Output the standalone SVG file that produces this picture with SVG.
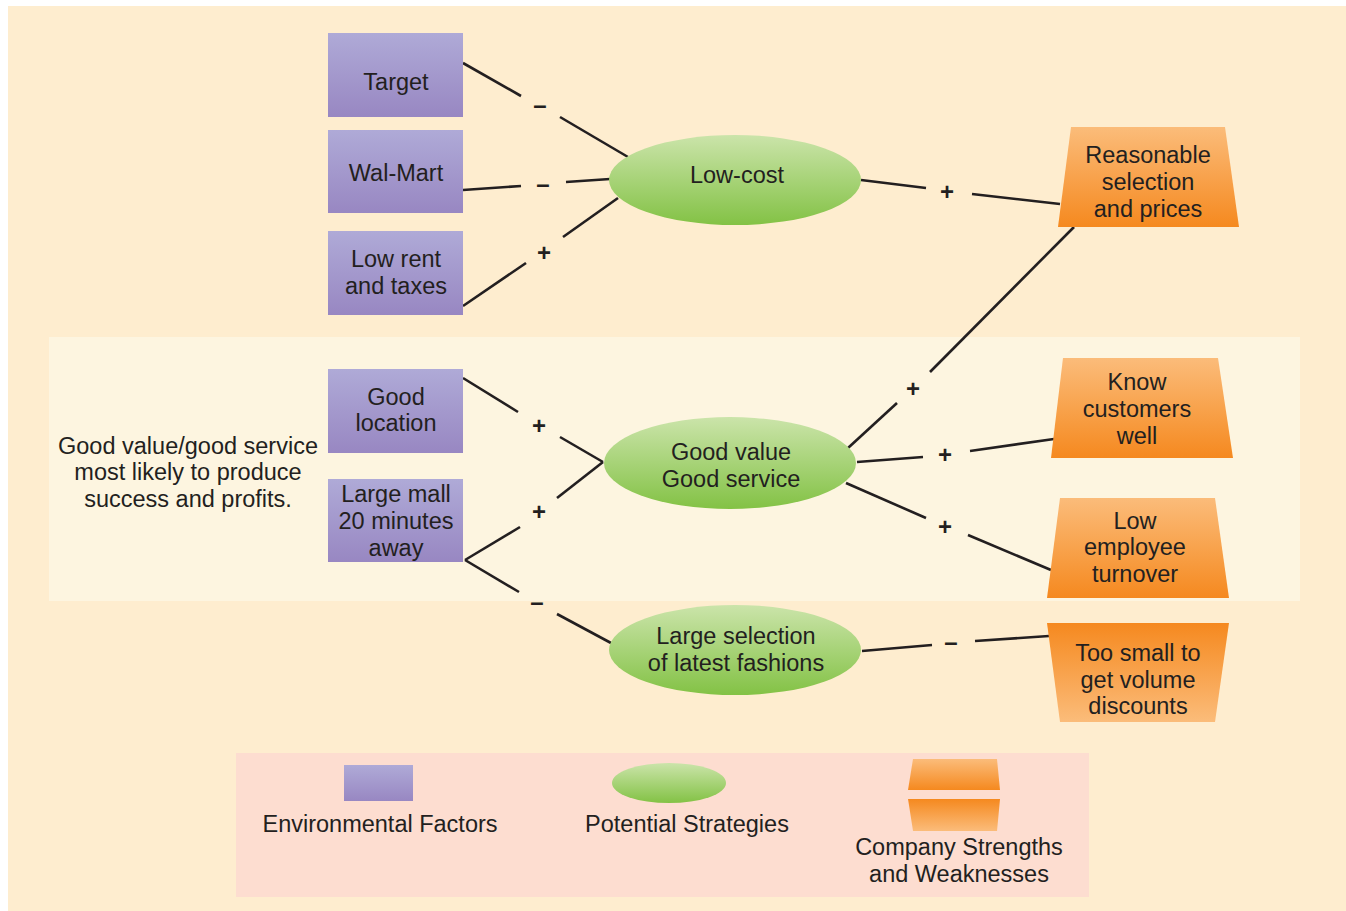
<svg xmlns="http://www.w3.org/2000/svg" width="1346" height="911" viewBox="0 0 1346 911">
<defs>
<linearGradient id="gp" x1="0" y1="0" x2="0" y2="1"><stop offset="0" stop-color="#AFAAD7"/><stop offset="1" stop-color="#9887C2"/></linearGradient>
<linearGradient id="gg" x1="0" y1="0" x2="0" y2="1"><stop offset="0" stop-color="#CBE4AA"/><stop offset="1" stop-color="#83C245"/></linearGradient>
<linearGradient id="go" x1="0" y1="0" x2="0" y2="1"><stop offset="0" stop-color="#FBBC7A"/><stop offset="1" stop-color="#F5891F"/></linearGradient>
<linearGradient id="goi" x1="0" y1="0" x2="0" y2="1"><stop offset="0" stop-color="#F5891F"/><stop offset="1" stop-color="#FBBC7A"/></linearGradient>
<style>
text{font-family:"Liberation Sans",Arial,sans-serif;fill:#231F20;font-size:23.5px;text-anchor:middle}
.sg{font-size:24px;font-weight:bold}
.c line{stroke:#231F20;stroke-width:2.6}
.p{fill:url(#gp)}
.g{fill:url(#gg)}
.o{fill:url(#go)}
.oi{fill:url(#goi)}
</style>
</defs>
<rect x="8" y="6" width="1338" height="905" fill="#FEEDCF"/>
<rect x="49" y="337" width="1251" height="264" fill="#FDF5E0"/>
<rect x="236" y="753" width="853" height="144" fill="#FDDDD0"/>

<g id="connectors" class="c">
<line x1="463" y1="63" x2="521" y2="96"/><line x1="560" y1="117" x2="628" y2="157"/>
<line x1="463" y1="190" x2="521" y2="186"/><line x1="566" y1="182" x2="610" y2="179"/>
<line x1="463" y1="306" x2="526" y2="263"/><line x1="563" y1="237" x2="618" y2="198"/>
<line x1="463" y1="378" x2="518" y2="412"/><line x1="560" y1="437" x2="603" y2="462"/>
<line x1="465" y1="560" x2="520" y2="527"/><line x1="557" y1="498" x2="603" y2="462"/>
<line x1="465" y1="560" x2="519" y2="592"/><line x1="557" y1="614" x2="611" y2="643"/>
<line x1="861" y1="180" x2="926" y2="188"/><line x1="972" y1="194" x2="1060" y2="204"/>
<line x1="848" y1="448" x2="897" y2="403"/><line x1="930" y1="372" x2="1074" y2="227"/>
<line x1="857" y1="462" x2="923" y2="457"/><line x1="970" y1="451" x2="1054" y2="439"/>
<line x1="846" y1="483" x2="926" y2="518"/><line x1="968" y1="535" x2="1051" y2="570"/>
<line x1="862" y1="651" x2="932" y2="645"/><line x1="975" y1="641" x2="1049" y2="636"/>
<text class="sg" x="540" y="113">–</text>
<text class="sg" x="543" y="192">–</text>
<text class="sg" x="544" y="261">+</text>
<text class="sg" x="539" y="434">+</text>
<text class="sg" x="539" y="520">+</text>
<text class="sg" x="537" y="610">–</text>
<text class="sg" x="947" y="200">+</text>
<text class="sg" x="913" y="397">+</text>
<text class="sg" x="945" y="463">+</text>
<text class="sg" x="945" y="535">+</text>
<text class="sg" x="951" y="650">–</text>
</g>

<g id="target"><rect class="p" x="328" y="33" width="135" height="84"/><text x="396" y="90">Target</text></g>
<g id="walmart"><rect class="p" x="328" y="130" width="135" height="83"/><text x="396" y="181">Wal-Mart</text></g>
<g id="lowrent"><rect class="p" x="328" y="231" width="135" height="84"/><text x="396" y="267">Low rent</text><text x="396" y="294">and taxes</text></g>
<g id="goodlocation"><rect class="p" x="328" y="369" width="135" height="84"/><text x="396" y="405">Good</text><text x="396" y="431">location</text></g>
<g id="largemall"><rect class="p" x="328" y="479" width="135" height="83"/><text x="396" y="502">Large mall</text><text x="396" y="529">20 minutes</text><text x="396" y="556">away</text></g>

<g id="lowcost"><ellipse class="g" cx="735" cy="180" rx="126" ry="45"/><text x="737" y="183">Low-cost</text></g>
<g id="goodvalue"><ellipse class="g" cx="730" cy="463" rx="126" ry="46"/><text x="731" y="460">Good value</text><text x="731" y="487">Good service</text></g>
<g id="largeselection"><ellipse class="g" cx="735" cy="650" rx="126" ry="45"/><text x="736" y="644">Large selection</text><text x="736" y="671">of latest fashions</text></g>

<g id="reasonable"><polygon class="o" points="1071,127 1225,127 1239,227 1058,227"/><text x="1148" y="163">Reasonable</text><text x="1148" y="190">selection</text><text x="1148" y="217">and prices</text></g>
<g id="knowcustomers"><polygon class="o" points="1063,358 1218,358 1233,458 1051,458"/><text x="1137" y="390">Know</text><text x="1137" y="417">customers</text><text x="1137" y="444">well</text></g>
<g id="lowemployee"><polygon class="o" points="1060,498 1215,498 1229,598 1047,598"/><text x="1135" y="529">Low</text><text x="1135" y="555">employee</text><text x="1135" y="582">turnover</text></g>
<g id="toosmall"><polygon class="oi" points="1047,623 1229,623 1215,722 1060,722"/><text x="1138" y="661">Too small to</text><text x="1138" y="688">get volume</text><text x="1138" y="714">discounts</text></g>

<g id="note"><text x="188" y="454">Good value/good service</text><text x="188" y="480">most likely to produce</text><text x="188" y="507">success and profits.</text></g>

<g id="legend">
<rect class="p" x="344" y="765" width="69" height="36"/>
<text x="380" y="832">Environmental Factors</text>
<ellipse class="g" cx="669" cy="783" rx="57" ry="20"/>
<text x="687" y="832">Potential Strategies</text>
<polygon class="o" points="913,759 997,759 1000,790 908,790"/>
<polygon class="oi" points="908,799 1000,799 997,831 913,831"/>
<text x="959" y="855">Company Strengths</text>
<text x="959" y="882">and Weaknesses</text>
</g>
</svg>
